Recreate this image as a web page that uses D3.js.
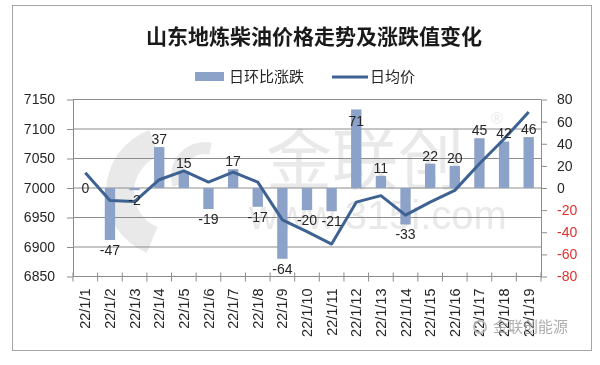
<!DOCTYPE html>
<html>
<head>
<meta charset="utf-8">
<script src="https://cdn.jsdelivr.net/npm/d3@7"></script>
<style>
  body { margin: 0; background: #fff; }
  text { font-family: "Liberation Sans", Arial, sans-serif; }
  .cn { font-family: "Noto Sans CJK SC", sans-serif; }
</style>
</head>
<body>
<script>
// data
var dates = ["22/1/1", "22/1/2", "22/1/3", "22/1/4", "22/1/5", "22/1/6", "22/1/7", "22/1/8", "22/1/9", "22/1/10",
  "22/1/11", "22/1/12", "22/1/13", "22/1/14", "22/1/15", "22/1/16", "22/1/17", "22/1/18", "22/1/19"];
var change = [0, -47, -2, 37, 15, -19, 17, -17, -64, -20, -21, 71, 11, -33, 22, 20, 45, 42, 46];
var price = [7026, 6979, 6977, 7014, 7029, 7010, 7027, 7010, 6946, 6926, 6905, 6976, 6987, 6954, 6976, 6996, 7041, 7083, 7129];
var leftTicks = [6850, 6900, 6950, 7000, 7050, 7100, 7150];
var rightTicks = [-80, -60, -40, -20, 0, 20, 40, 60, 80];

var barColor = "#8da2c9";
var lineColor = "#3e6291";
var gridColor = "#8c8c8c";

var svg = d3.select("body")
  .append("svg")
  .attr("width", 600)
  .attr("height", 365);

// outer frame
svg.append("rect")
  .attr("x", 12.5).attr("y", 5.5)
  .attr("width", 579).attr("height", 345)
  .attr("fill", "#fff")
  .attr("stroke", "#a6a6a6");

var plotL = 73, plotR = 541, plotT = 99.5, plotB = 276.5;

var x = d3.scaleBand().domain(dates).range([plotL, plotR]).padding(0);
var yL = d3.scaleLinear().domain([6850, 7150]).range([plotB, plotT]);
var yR = d3.scaleLinear().domain([-80, 80]).range([plotB, plotT]);

// watermark
var wm = svg.append("g").attr("fill", "#e4e4e4").attr("opacity", 0.8);
wm.append("path")
  .attr("transform", "translate(172,192)")
  .attr("d", d3.arc().innerRadius(38).outerRadius(66).startAngle(-2.75).endAngle(-0.35)());
wm.append("path")
  .attr("transform", "translate(205,176)")
  .attr("d", d3.arc().innerRadius(22).outerRadius(34).startAngle(-1.9).endAngle(0.2)());
wm.append("text").attr("class", "cn")
  .attr("x", 365).attr("y", 184)
  .attr("text-anchor", "middle")
  .style("font-size", "66px")
  .text("金联创");
wm.append("text")
  .attr("x", 497).attr("y", 124)
  .attr("text-anchor", "middle")
  .style("font-size", "16px")
  .text("®");
wm.append("text")
  .attr("x", 378).attr("y", 229)
  .attr("text-anchor", "middle")
  .style("font-size", "40px")
  .text("www.315i.com");

// gridlines
svg.append("g")
  .selectAll("line")
  .data(leftTicks.slice(1))
  .enter().append("line")
  .attr("x1", plotL).attr("x2", plotR)
  .attr("y1", function(d) { return yL(d); })
  .attr("y2", function(d) { return yL(d); })
  .attr("stroke", gridColor)
  .attr("stroke-width", 1);

// bars
svg.append("g")
  .selectAll("rect")
  .data(change)
  .enter().append("rect")
  .attr("x", function(d, i) { return x(dates[i]) + x.bandwidth() * 0.29; })
  .attr("width", x.bandwidth() * 0.42)
  .attr("y", function(d) { return yR(Math.max(0, d)); })
  .attr("height", function(d) { return Math.abs(yR(d) - yR(0)); })
  .attr("fill", barColor);

// line
var line = d3.line()
  .x(function(d, i) { return x(dates[i]) + x.bandwidth() / 2; })
  .y(function(d) { return yL(d); });
svg.append("path")
  .attr("d", line(price))
  .attr("fill", "none")
  .attr("stroke", lineColor)
  .attr("stroke-width", 3)
  .attr("stroke-linejoin", "round");

// left axis
var axL = svg.append("g")
  .attr("transform", "translate(" + plotL + ",0)")
  .call(d3.axisLeft(yL).tickValues(leftTicks).tickFormat(function(d) { return String(d); })
    .tickSize(6).tickPadding(12).tickSizeOuter(0));
axL.select(".domain").attr("stroke", gridColor);
axL.selectAll(".tick line").attr("stroke", gridColor);
axL.selectAll(".tick text").style("font-size", "14px").attr("fill", "#262626");

// right axis
var axR = svg.append("g")
  .attr("transform", "translate(" + plotR + ",0)")
  .call(d3.axisRight(yR).tickValues(rightTicks).tickFormat(function(d) { return String(d); })
    .tickSize(6).tickPadding(10).tickSizeOuter(0));
axR.select(".domain").attr("stroke", gridColor);
axR.selectAll(".tick line").attr("stroke", gridColor);
axR.selectAll(".tick text")
  .style("font-size", "14px")
  .attr("fill", function(d) { return d < 0 ? "#e0312f" : "#262626"; });

// bottom axis
svg.append("line")
  .attr("x1", plotL).attr("x2", plotR)
  .attr("y1", plotB).attr("y2", plotB)
  .attr("stroke", gridColor);
svg.append("g")
  .selectAll("line")
  .data(dates.concat(["end"]))
  .enter().append("line")
  .attr("x1", function(d, i) { return i < dates.length ? x(d) : plotR; })
  .attr("x2", function(d, i) { return i < dates.length ? x(d) : plotR; })
  .attr("y1", plotB - 4).attr("y2", plotB + 5)
  .attr("stroke", gridColor);
svg.append("g")
  .selectAll("text")
  .data(dates)
  .enter().append("text")
  .attr("transform", function(d) {
    return "translate(" + (x(d) + x.bandwidth() / 2) + "," + (plotB + 12) + ") rotate(-90)";
  })
  .attr("text-anchor", "end")
  .attr("dy", "0.35em")
  .style("font-size", "14.5px")
  .attr("fill", "#262626")
  .text(function(d) { return d; });

// bar labels
svg.append("g")
  .selectAll("text")
  .data(change)
  .enter().append("text")
  .attr("x", function(d, i) { return x(dates[i]) + x.bandwidth() / 2; })
  .attr("y", function(d) {
    if (d > 0) return Math.max(yR(d) - 8, plotT + 22);
    if (d < 0) return yR(d) + 10;
    return yR(0);
  })
  .attr("dy", "0.35em")
  .attr("text-anchor", "middle")
  .style("font-size", "14px")
  .attr("fill", "#262626")
  .text(function(d) { return d; });

// title
svg.append("text").attr("class", "cn")
  .attr("x", 314).attr("y", 37)
  .attr("text-anchor", "middle")
  .attr("dy", "0.35em")
  .style("font-size", "21px")
  .style("font-weight", "bold")
  .attr("fill", "#1a1a1a")
  .text("山东地炼柴油价格走势及涨跌值变化");

// legend
var lg = svg.append("g");
lg.append("rect")
  .attr("x", 195).attr("y", 72)
  .attr("width", 29).attr("height", 9)
  .attr("fill", barColor);
lg.append("text").attr("class", "cn")
  .attr("x", 229).attr("y", 77)
  .attr("dy", "0.35em")
  .style("font-size", "15px")
  .attr("fill", "#262626")
  .text("日环比涨跌");
lg.append("line")
  .attr("x1", 332).attr("x2", 368)
  .attr("y1", 77).attr("y2", 77)
  .attr("stroke", lineColor)
  .attr("stroke-width", 3);
lg.append("text").attr("class", "cn")
  .attr("x", 370).attr("y", 77)
  .attr("dy", "0.35em")
  .style("font-size", "15px")
  .attr("fill", "#262626")
  .text("日均价");

// corner mark
var cm = svg.append("g").attr("fill", "#a0a0a0").attr("opacity", 0.85);
cm.append("circle")
  .attr("cx", 480).attr("cy", 327).attr("r", 6)
  .attr("fill", "none").attr("stroke", "#b5b5b5").attr("stroke-width", 2);
cm.append("text").attr("class", "cn")
  .attr("x", 493).attr("y", 327)
  .attr("dy", "0.35em")
  .style("font-size", "15px")
  .text("金联创能源");
</script>
</body>
</html>
